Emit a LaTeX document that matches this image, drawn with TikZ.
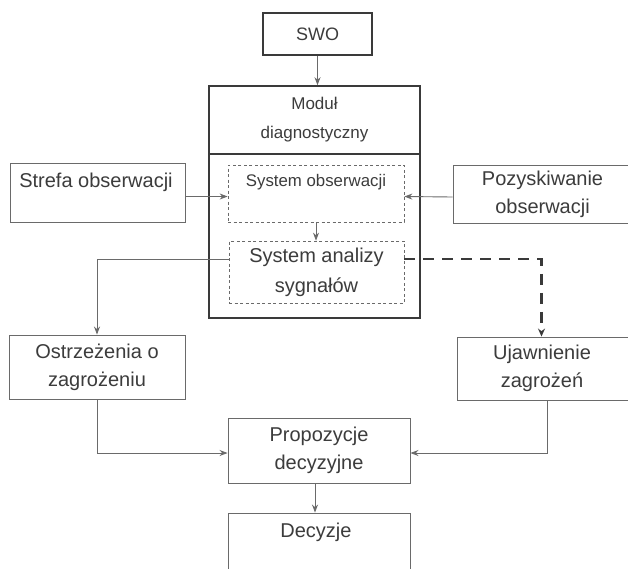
\documentclass[tikz,border=0pt]{standalone}
\usepackage{fontspec}
\setmainfont{Liberation Sans}
\usetikzlibrary{arrows.meta}
\definecolor{linegray}{HTML}{6A6A6A}
\definecolor{darkline}{HTML}{3A3A3A}
\definecolor{txtgray}{HTML}{3C3C3C}
\begin{document}
\begin{tikzpicture}[x=1pt,y=-1pt,
  box/.style={draw=linegray, line width=0.9pt, inner sep=0pt, text=txtgray, align=center,
     font=\fontsize{20}{28}\selectfont},
  thickbox/.style={draw=darkline, line width=1.6pt, inner sep=0pt, text=txtgray, align=center},
  dbox/.style={draw=linegray, line width=0.7pt, dash pattern=on 3pt off 2.5pt, inner sep=0pt,
     text=txtgray, align=center},
  txt/.style={inner sep=0pt, text=txtgray, align=center, font=\fontsize{20}{28}\selectfont},
  arr/.style={draw=linegray, line width=0.9pt, -{Stealth[length=8pt,width=6pt]}},
  darr/.style={draw=darkline, line width=2.2pt, dash pattern=on 11pt off 8pt,
     -{Stealth[length=8pt,width=7pt]}}
]
\clip (0,0) rectangle (628,568);
\fill[white] (0,0) rectangle (628,568);

% boxes
\node[thickbox, minimum width=109pt, minimum height=42pt, font=\fontsize{18}{22}\selectfont] (swo) at (317.5,34) {SWO};
\node[thickbox, minimum width=211pt, minimum height=232pt] (mod) at (314.5,202) {};
\coordinate (sep) at (0,154);
\draw[darkline, line width=1.6pt] (mod.west |- sep) -- (mod.east |- sep);
\node[txt, font=\fontsize{17}{29}\selectfont] (modt) at (314.5,120) {Moduł\\diagnostyczny};

\node[dbox, minimum width=176pt, minimum height=57pt] (so) at (316,193.5) {};
\node[txt, font=\fontsize{16.8}{20}\selectfont] (sot) at (316,182) {System obserwacji};
\node[dbox, minimum width=175pt, minimum height=62pt, font=\fontsize{20}{30}\selectfont] (sa) at (316.5,272) {System analizy\\sygnałów};

\node[box, minimum width=175pt, minimum height=59pt] (strefa) at (97.5,192.5) {};
\node[txt] (strefat) at (96,182) {Strefa obserwacji};
\node[box, minimum width=179pt, minimum height=58pt] (pozy) at (542.5,194) {Pozyskiwanie\\obserwacji};

\node[box, minimum width=176pt, minimum height=64pt] (ostrz) at (97,367) {Ostrzeżenia o\\zagrożeniu};
\node[box, minimum width=175pt, minimum height=63pt] (ujaw) at (544.5,368.5) {};
\node[txt] (ujawt) at (542,368.5) {Ujawnienie\\zagrożeń};

\node[box, minimum width=182pt, minimum height=65pt] (prop) at (319,450.5) {Propozycje\\decyzyjne};
\node[box, minimum width=182pt, minimum height=64pt] (dec) at (319,545) {};
\node[txt] (dect) at (316,532) {Decyzje};

% connectors
\draw[arr] (swo.south) -- (swo.south |- mod.north);
\draw[arr] ([yshift=-4pt]strefa.east) -- ([yshift=-3pt]so.west);
\draw[arr] ([yshift=-3pt]pozy.west) -- ([yshift=-3pt]so.east);
\draw[arr] (so.south) -- (so.south |- sa.north);
\draw[arr] ([yshift=13pt]sa.west) -| (ostrz.north);
\draw[darr] ([yshift=13pt]sa.east) -| ([xshift=-3pt]ujaw.north);
\draw[arr] (ostrz.south) |- ([yshift=-2.5pt]prop.west);
\draw[arr] ([xshift=2.5pt]ujaw.south) |- ([yshift=-2.5pt]prop.east);
\draw[arr] ([xshift=-4pt]prop.south) -- ([xshift=-4pt]dec.north);
\end{tikzpicture}
\end{document}
